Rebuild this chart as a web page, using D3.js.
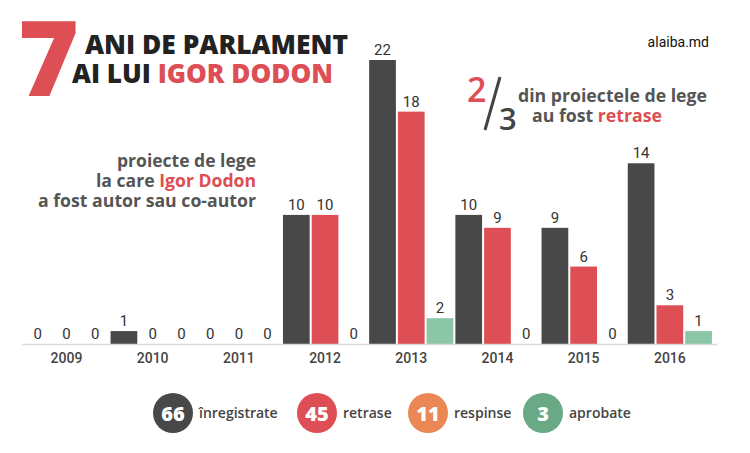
<!DOCTYPE html>
<html><head><meta charset="utf-8">
<script src="https://cdn.jsdelivr.net/npm/d3@7"></script>
<style>body{margin:0;background:#fff}svg{display:block}</style>
</head><body><svg id="c" width="750" height="453"></svg>
<script>
const years = ["2009","2010","2011","2012","2013","2014","2015","2016"];
const seriesNames = ["înregistrate","retrase","aprobate"];
const inregistrate = [0,1,0,10,22,10,9,14];
const retrase = [0,0,0,10,18,9,6,3];
const aprobate = [0,0,0,0,2,0,0,1];
const totals = [66,45,11,3];
const totalLabels = ["înregistrate","retrase","respinse","aprobate"];

const colors = {"înregistrate":"#484848","retrase":"#dd4f55","aprobate":"#8bc6a6"};
const legendColors = ["#484848","#dd4f55","#ea8754","#6aa985"];

const svg = d3.select("#c");
const seriesVals = {"înregistrate":inregistrate,"retrase":retrase,"aprobate":aprobate};
const slots = [];
years.forEach((y,i)=>seriesNames.forEach(s=>slots.push({year:y,series:s,value:seriesVals[s][i],key:y+"|"+s})));

const x = d3.scaleBand().domain(slots.map(d=>d.key)).range([23.5,712.8]).paddingInner(0.07).paddingOuter(0.03);
const y = d3.scaleLinear().domain([0,22]).range([344,60]);

// bars
svg.append("g").selectAll("rect").data(slots.filter(d=>d.value>0)).join("rect")
  .attr("x",d=>x(d.key)).attr("width",x.bandwidth())
  .attr("y",d=>y(d.value)).attr("height",d=>y(0)-y(d.value))
  .attr("fill",d=>colors[d.series]);

// value labels
svg.append("g").selectAll("text").data(slots).join("text")
  .attr("x",d=>x(d.key)+x.bandwidth()/2).attr("y",d=>y(d.value)-5)
  .attr("text-anchor","middle").attr("font-family","Roboto").attr("font-weight",400)
  .attr("font-size",15).attr("fill","#333").text(d=>d.value);

// axis
const xYear = d3.scaleBand().domain(years).range([x(years[0]+"|"+seriesNames[0]), x(years[7]+"|aprobate")+x.bandwidth()]);
const axis = svg.append("g").attr("transform","translate(0,344)")
  .call(d3.axisBottom(xYear).tickSize(0).tickPadding(9));
axis.select(".domain").attr("d","M22,0.5H717").attr("stroke","#d9d9d9").attr("stroke-width",1.5);
axis.selectAll("text").attr("font-family","Roboto").attr("font-weight",500).attr("font-size",14).attr("fill","#444")
  .attr("x",d=>x(d+"|retrase")+x.bandwidth()/2 - xYear(d) - xYear.bandwidth()/2);

// title
svg.append("text").attr("x",18).attr("y",96).attr("font-family","Open Sans").attr("font-weight",800)
  .attr("font-size",104).attr("fill","#dd4f55").text("7");
svg.append("text").attr("x",85).attr("y",54).attr("font-family","Open Sans").attr("font-weight",800)
  .attr("font-size",26).attr("fill","#222").attr("textLength",263).attr("lengthAdjust","spacingAndGlyphs").text("ANI DE PARLAMENT");
const t2 = svg.append("text").attr("x",72).attr("y",83).attr("font-family","Open Sans").attr("font-weight",800)
  .attr("font-size",26).attr("fill","#222").attr("textLength",261).attr("lengthAdjust","spacingAndGlyphs");
t2.append("tspan").text("AI LUI ");
t2.append("tspan").attr("fill","#dd4f55").text("IGOR DODON");

svg.append("text").attr("x",709).attr("y",47).attr("text-anchor","end").attr("font-family","Roboto")
  .attr("font-size",14).attr("fill","#111").text("alaiba.md");

// 2/3
svg.append("text").attr("x",467).attr("y",102).attr("font-family","Open Sans").attr("font-weight",600)
  .attr("font-size",34).attr("fill","#dd4f55").text("2");
svg.append("line").attr("x1",500).attr("y1",77).attr("x2",485).attr("y2",130).attr("stroke","#444").attr("stroke-width",3);
svg.append("text").attr("x",499).attr("y",130).attr("font-family","Open Sans").attr("font-weight",600)
  .attr("font-size",31).attr("fill","#444").text("3");
svg.append("text").attr("x",518).attr("y",102).attr("font-family","Open Sans").attr("font-weight",700)
  .attr("font-size",18).attr("fill","#555").attr("textLength",189).attr("lengthAdjust","spacingAndGlyphs").text("din proiectele de lege");
const r2 = svg.append("text").attr("x",532).attr("y",122).attr("font-family","Open Sans").attr("font-weight",700)
  .attr("font-size",18).attr("fill","#555").attr("textLength",130).attr("lengthAdjust","spacingAndGlyphs");
r2.append("tspan").text("au fost ");
r2.append("tspan").attr("fill","#dd4f55").text("retrase");

// left annotation
const ann = svg.append("g").attr("font-family","Open Sans").attr("font-weight",700).attr("font-size",18)
  .attr("fill","#555");
ann.append("text").attr("x",117).attr("y",167).attr("textLength",139).attr("lengthAdjust","spacingAndGlyphs").text("proiecte de lege");
const a2 = ann.append("text").attr("x",96).attr("y",187).attr("textLength",160).attr("lengthAdjust","spacingAndGlyphs");
a2.append("tspan").text("la care ");
a2.append("tspan").attr("fill","#dd4f55").text("Igor Dodon");
ann.append("text").attr("x",38).attr("y",207).attr("textLength",218).attr("lengthAdjust","spacingAndGlyphs").text("a fost autor sau co-autor");

// legend
const legX = [173,317,428,543];
const lg = svg.append("g").selectAll("g").data(totals.map((v,i)=>({v,label:totalLabels[i],c:legendColors[i],cx:legX[i]})))
  .join("g").attr("transform",d=>`translate(${d.cx},413)`);
lg.append("circle").attr("r",20).attr("fill",d=>d.c);
lg.append("text").attr("text-anchor","middle").attr("y",7.5).attr("font-family","Open Sans").attr("font-weight",800)
  .attr("font-size",20).attr("fill","#fff").text(d=>d.v);
lg.append("text").attr("x",26).attr("y",5).attr("font-family","Open Sans").attr("font-weight",600)
  .attr("font-size",14).attr("fill","#444").text(d=>d.label);
</script></body></html>
